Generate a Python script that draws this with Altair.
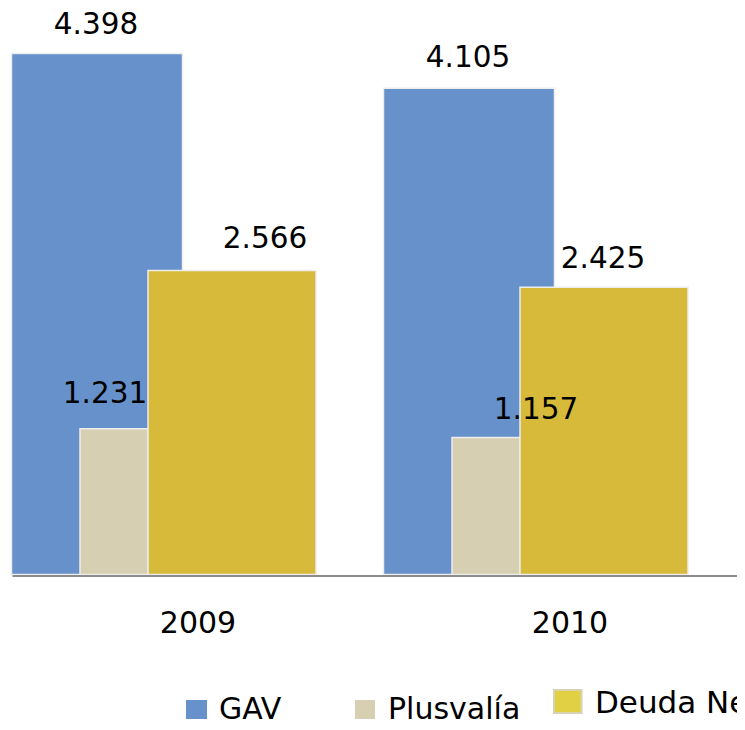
import altair as alt
import pandas as pd

# ---- data ----
years = ["2009", "2010"]
series = ["GAV", "Plusvalía", "Deuda Neta"]
gav = [4398, 4105]
plusvalia = [1231, 1157]
deuda_neta = [2566, 2425]

# ---- style ----
bar_colors = ["#6691CB", "#D7CFB1", "#D7BA3A"]
legend_fill = ["#6691CB", "#D7CFB1", "#E1D142"]
bar_width = [171, 68, 168]
bar_offset = [-101, -84, 34]
# per-label nudges (dx, dy) in px, order: series x years
label_dx = [[-1, -1], [-9, 50], [33, -1]]
label_dy = [[-19, -21], [-26, -18], [-22, -19]]
FONT = "DejaVu Sans"

values = [gav, plusvalia, deuda_neta]
rows = []
for s, vals in zip(series, values):
    for y, v in zip(years, vals):
        rows.append({"year": y, "series": s, "value": v})
df = pd.DataFrame(rows)

x_enc = alt.X(
    "year:N",
    sort=years,
    scale=alt.Scale(range=[0, 744], paddingInner=0, paddingOuter=0),
    axis=alt.Axis(
        title=None, ticks=False, tickSize=0, grid=False, labelAngle=0,
        domainColor="#8C8C8C", domainWidth=2, offset=1,
        labelFont=FONT, labelFontSize=30, labelColor="#000000",
        labelBaseline="alphabetic", labelPadding=56.5, zindex=1,
    ),
)
y_enc = alt.Y(
    "value:Q",
    scale=alt.Scale(domain=[0, 4600], nice=False, zero=True),
    axis=None,
)

base = alt.Chart(df)
layers = []
for i, s in enumerate(series):
    layers.append(
        base.transform_filter(alt.datum.series == s)
        .mark_bar(
            width=bar_width[i], xOffset=bar_offset[i], color=bar_colors[i],
            stroke="#EDEDED", strokeWidth=1.5,
        )
        .encode(x=x_enc, y=y_enc)
    )

for i, s in enumerate(series):
    for j, yr in enumerate(years):
        layers.append(
            base.transform_filter((alt.datum.series == s) & (alt.datum.year == yr))
            .transform_calculate(label="format(datum.value / 1000, '.3f')")
            .mark_text(
                font=FONT, fontSize=29.5, color="#000000", align="center",
                baseline="alphabetic", dx=bar_offset[i] + label_dx[i][j],
                dy=label_dy[i][j],
            )
            .encode(x=x_enc, y=y_enc, text="label:N")
        )

# ---- hand-placed legend (layout only, page px) ----
legend_df = pd.DataFrame({"series": series})
leg_box = [(186, 207, 700, 719), (355, 375, 700, 719), (554, 581.5, 690, 713)]
leg_text = [(219, 719, 30), (388, 719, 30), (595, 713, 31)]
for i, s in enumerate(series):
    x1, x2, y1, y2 = leg_box[i]
    stroke = "#D9D1B3" if i == 2 else legend_fill[i]
    sw = 2 if i == 2 else 0
    layers.append(
        alt.Chart(legend_df).transform_filter(alt.datum.series == s)
        .mark_rect(fill=legend_fill[i], stroke=stroke, strokeWidth=sw)
        .encode(x=alt.value(x1 - 12), x2=alt.value(x2 - 12),
                y=alt.value(y1 - 29.5), y2=alt.value(y2 - 29.5))
    )
    tx, ty, fs = leg_text[i]
    layers.append(
        alt.Chart(legend_df).transform_filter(alt.datum.series == s)
        .mark_text(font=FONT, fontSize=fs, color="#000000", align="left",
                   baseline="alphabetic")
        .encode(x=alt.value(tx - 12), y=alt.value(ty - 29.5), text="series:N")
    )

chart = (
    alt.layer(*layers)
    .properties(
        width=725, height=545,
        background="#FFFFFF",
        autosize=alt.AutoSizeParams(type="none"),
        padding={"left": 4, "top": 21.5, "right": 0, "bottom": 147.5},
    )
    .configure_view(strokeWidth=0, stroke="transparent")
)

chart.save("out.html", embed_options={"renderer": "svg", "actions": False})
